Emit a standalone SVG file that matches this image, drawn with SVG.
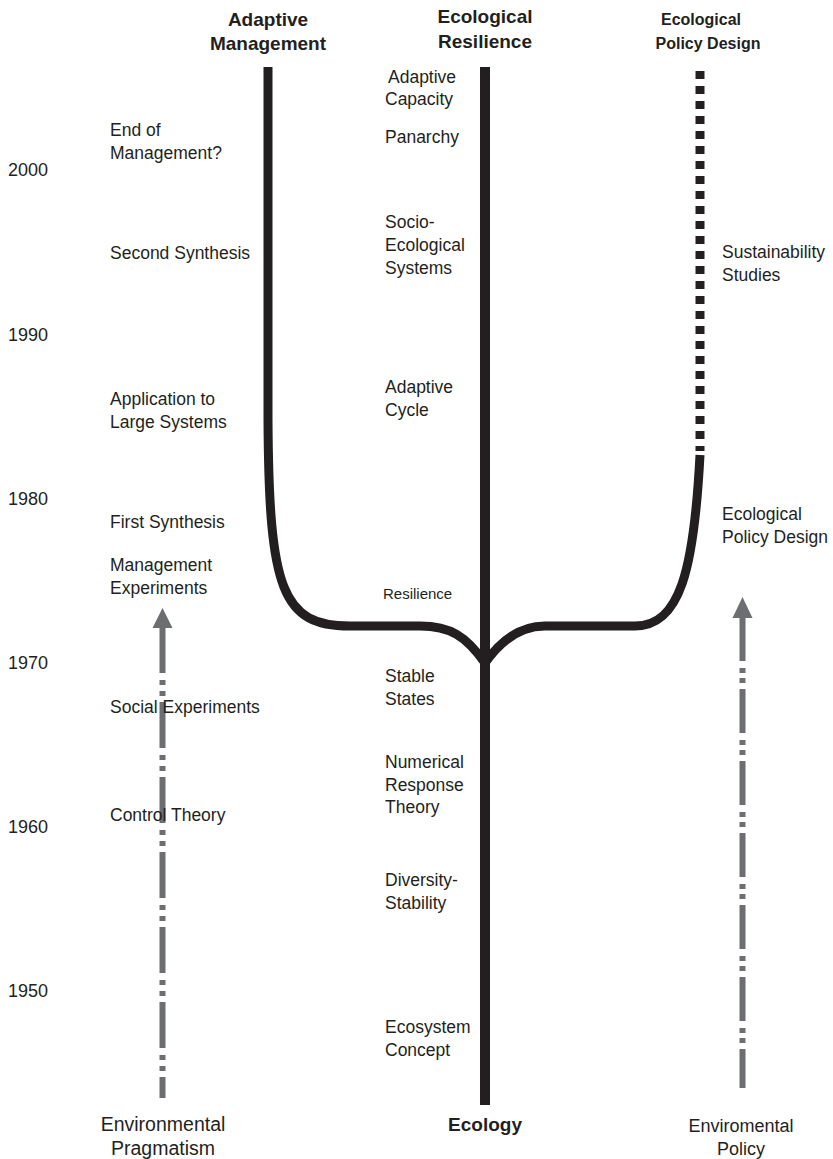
<svg xmlns="http://www.w3.org/2000/svg" width="833" height="1159" viewBox="0 0 833 1159">
  <style>
    text { font-family: "Liberation Sans", Arial, sans-serif; fill: #231f20; }
    .lbl { font-size: 17.5px; }
    .yr { font-size: 18px; }
    .hd { font-size: 19px; font-weight: bold; text-anchor: middle; }
    .hds { font-size: 16px; font-weight: bold; text-anchor: middle; }
    .mid { text-anchor: middle; }
    .trunk { fill: none; stroke: #231f20; stroke-width: 10; }
    .branch { fill: none; stroke: #231f20; stroke-width: 9; stroke-linejoin: round; }
    .dots { fill: none; stroke: #231f20; stroke-width: 9; stroke-dasharray: 8 7; }
    .flow { fill: none; stroke: #6d6e71; stroke-width: 6; }
    .head { fill: #6d6e71; }
  </style>

  <!-- time axis -->
  <g id="years">
    <text class="yr" x="8" y="176">2000</text>
    <text class="yr" x="8" y="341">1990</text>
    <text class="yr" x="8" y="505">1980</text>
    <text class="yr" x="8" y="669">1970</text>
    <text class="yr" x="8" y="833">1960</text>
    <text class="yr" x="8" y="997">1950</text>
  </g>

  <!-- lineages -->
  <g id="connectors">
    <path id="ecology-trunk" class="trunk" d="M485,67 L485,1105"/>
    <path id="adaptive-management-branch" class="branch" d="M268,67 L268,420 C269,590 282,626 350,626 L420,626 C450,626 466,636 485,663"/>
    <path id="policy-design-branch" class="branch" d="M700,455 C694,570 680,626 635,626 L545,626 C520,626 501,640 485,663"/>
    <path id="policy-design-dotted" class="dots" d="M700,71 L700,451"/>
    <g id="pragmatism-arrow">
      <path class="flow" d="M162.5,627 L162.5,1098" stroke-dasharray="46 7 5 6 5 6"/>
      <polygon class="head" points="162.5,608 152.5,628 172.5,628"/>
    </g>
    <g id="policy-arrow">
      <path class="flow" d="M742.5,617 L742.5,1088" stroke-dasharray="44 7 5 5 5 6"/>
      <polygon class="head" points="742.5,597 732.5,618 752.5,618"/>
    </g>
  </g>

  <!-- column headers -->
  <g id="header-adaptive-management">
    <text class="hd" x="268" y="26">Adaptive</text>
    <text class="hd" x="268" y="50">Management</text>
  </g>
  <g id="header-ecological-resilience">
    <text class="hd" x="485" y="23">Ecological</text>
    <text class="hd" x="485" y="48">Resilience</text>
  </g>
  <g id="header-ecological-policy-design">
    <text class="hds" x="701" y="25">Ecological</text>
    <text class="hds" x="708" y="49">Policy Design</text>
  </g>

  <!-- adaptive management milestones -->
  <g id="end-of-management">
    <text class="lbl" x="110" y="136">End of</text>
    <text class="lbl" x="110" y="159">Management?</text>
  </g>
  <g id="second-synthesis"><text class="lbl" x="110" y="259">Second Synthesis</text></g>
  <g id="application-large-systems">
    <text class="lbl" x="110" y="405">Application to</text>
    <text class="lbl" x="110" y="428">Large Systems</text>
  </g>
  <g id="first-synthesis"><text class="lbl" x="110" y="528">First Synthesis</text></g>
  <g id="management-experiments">
    <text class="lbl" x="110" y="571">Management</text>
    <text class="lbl" x="110" y="594">Experiments</text>
  </g>
  <g id="social-experiments"><text class="lbl" x="110" y="713">Social Experiments</text></g>
  <g id="control-theory"><text class="lbl" x="110" y="821">Control Theory</text></g>

  <!-- ecology / resilience milestones -->
  <g id="adaptive-capacity">
    <text class="lbl" x="388" y="83">Adaptive</text>
    <text class="lbl" x="385" y="105">Capacity</text>
  </g>
  <g id="panarchy"><text class="lbl" x="385" y="143">Panarchy</text></g>
  <g id="socio-ecological-systems">
    <text class="lbl" x="385" y="228">Socio-</text>
    <text class="lbl" x="385" y="251">Ecological</text>
    <text class="lbl" x="385" y="274">Systems</text>
  </g>
  <g id="adaptive-cycle">
    <text class="lbl" x="385" y="393">Adaptive</text>
    <text class="lbl" x="385" y="416">Cycle</text>
  </g>
  <g id="resilience"><text x="383" y="599" font-size="15">Resilience</text></g>
  <g id="stable-states">
    <text class="lbl" x="385" y="682">Stable</text>
    <text class="lbl" x="385" y="705">States</text>
  </g>
  <g id="numerical-response-theory">
    <text class="lbl" x="385" y="768">Numerical</text>
    <text class="lbl" x="385" y="791">Response</text>
    <text class="lbl" x="385" y="813">Theory</text>
  </g>
  <g id="diversity-stability">
    <text class="lbl" x="385" y="886">Diversity-</text>
    <text class="lbl" x="385" y="909">Stability</text>
  </g>
  <g id="ecosystem-concept">
    <text class="lbl" x="385" y="1033">Ecosystem</text>
    <text class="lbl" x="385" y="1056">Concept</text>
  </g>

  <!-- policy design milestones -->
  <g id="sustainability-studies">
    <text class="lbl" x="722" y="258">Sustainability</text>
    <text class="lbl" x="722" y="281">Studies</text>
  </g>
  <g id="ecological-policy-design">
    <text class="lbl" x="722" y="520">Ecological</text>
    <text class="lbl" x="722" y="543">Policy Design</text>
  </g>

  <!-- roots -->
  <g id="environmental-pragmatism">
    <text class="mid" x="163" y="1131" font-size="19.5">Environmental</text>
    <text class="mid" x="163" y="1155" font-size="19.5">Pragmatism</text>
  </g>
  <g id="ecology"><text class="hd" x="485" y="1131">Ecology</text></g>
  <g id="environmental-policy">
    <text class="mid" x="741" y="1132" font-size="18">Enviromental</text>
    <text class="mid" x="741" y="1155" font-size="18">Policy</text>
  </g>
</svg>
